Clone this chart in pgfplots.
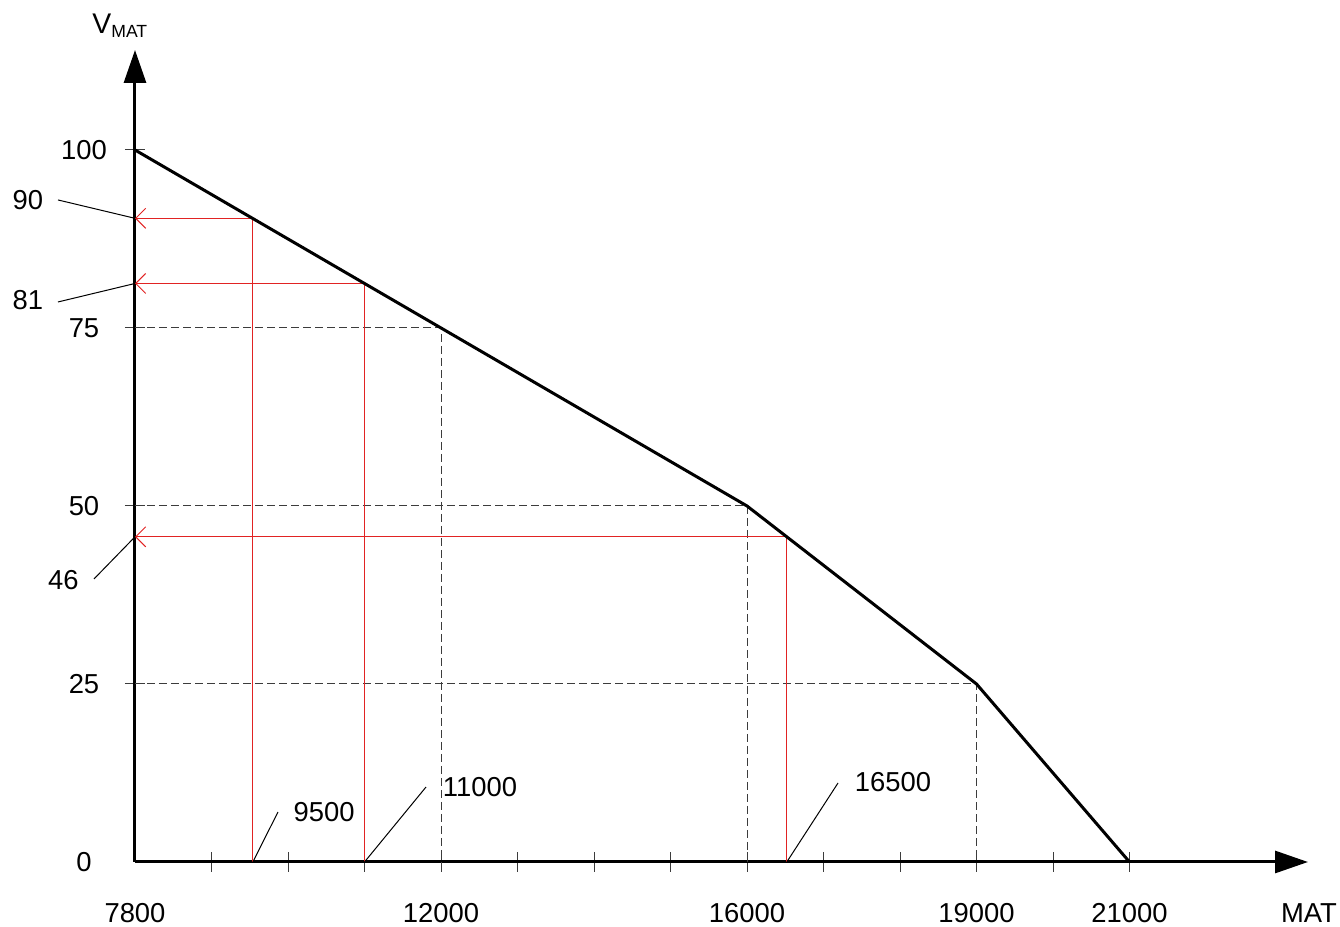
\documentclass[border=0pt]{standalone}
\usepackage{pgfplots}
\pgfplotsset{compat=1.18}
\usepackage{fontspec}
\setmainfont{Liberation Sans}
\usetikzlibrary{arrows.meta}
\definecolor{myred}{RGB}{225,35,35}
\definecolor{dashgray}{RGB}{60,60,60}
\begin{document}
\begin{tikzpicture}
\useasboundingbox (0,0) rectangle (670pt,463.5pt);
\begin{axis}[
  at={(67.5pt,32.5pt)}, anchor=south west,
  scale only axis, width=586.5pt, height=406pt,
  xmin=8000, xmax=23333, ymin=0, ymax=114.04,
  clip=false,
  axis lines=left,
  axis line style={line width=1.5pt, -{Triangle[length=16.5pt,width=11pt]}},
  xtick={9000,10000,11000,12000,13000,14000,15000,16000,17000,18000,19000,20000,21000},
  ytick={25,50,75,100},
  scaled x ticks=false, scaled y ticks=false,
  xticklabels={}, yticklabels={},
  tick align=center, major tick length=10pt,
  tick style={line width=0.5pt, color=dashgray},
  font=\fontsize{13.7}{16}\selectfont,
]
% dashed guides
\addplot[dashgray, line width=0.5pt, dash pattern=on 4pt off 2pt] coordinates {(8000,75) (12000,75) (12000,0)};
\addplot[dashgray, line width=0.5pt, dash pattern=on 4pt off 2pt] coordinates {(8000,50) (16000,50) (16000,0)};
\addplot[dashgray, line width=0.5pt, dash pattern=on 4pt off 2pt] coordinates {(8000,25) (19000,25) (19000,0)};
% red reading lines
\addplot[myred, line width=0.5pt, -{Straight Barb[length=5pt,width=10pt]}] coordinates {(9540,0) (9540,90.4) (8000,90.4)};
\addplot[myred, line width=0.5pt, -{Straight Barb[length=5pt,width=10pt]}] coordinates {(11000,0) (11000,81.25) (8000,81.25)};
\addplot[myred, line width=0.5pt, -{Straight Barb[length=5pt,width=10pt]}] coordinates {(16520,0) (16520,45.67) (8000,45.67)};
% main curve
\addplot[black, line width=1.5pt] coordinates {(8000,100) (12000,75) (16000,50) (19000,25) (21000,0)};
% leader lines
\draw[black, line width=0.5pt] (axis cs:6993,92.98) -- (axis cs:8000,90.4);
\draw[black, line width=0.5pt] (axis cs:6993,78.65) -- (axis cs:8000,81.25);
\draw[black, line width=0.5pt] (axis cs:7464,39.75) -- (axis cs:8000,45.67);
\draw[black, line width=0.5pt] (axis cs:9540,0) -- (axis cs:9869,7.02);
\draw[black, line width=0.5pt] (axis cs:11000,0) -- (axis cs:11804,10.53);
\draw[black, line width=0.5pt] (axis cs:16520,0) -- (axis cs:17190,11.1);
% y labels
\node[xshift=-25.5pt] at (axis cs:8000,100) {100};
\node[xshift=-25.5pt] at (axis cs:8000,75) {75};
\node[xshift=-25.5pt] at (axis cs:8000,50) {50};
\node[xshift=-25.5pt] at (axis cs:8000,25) {25};
\node[xshift=-25.5pt] at (axis cs:8000,0) {0};
\node at (axis cs:6601,92.98) {90};
\node at (axis cs:6601,78.93) {81};
\node at (axis cs:7065,39.6) {46};
% x labels
\node[yshift=-25.5pt] at (axis cs:8000,0) {7800};
\node[yshift=-25.5pt] at (axis cs:12000,0) {12000};
\node[yshift=-25.5pt] at (axis cs:16000,0) {16000};
\node[yshift=-25.5pt] at (axis cs:19000,0) {19000};
\node[yshift=-25.5pt] at (axis cs:21000,0) {21000};
\node[yshift=-25.5pt] at (axis cs:23346,0) {MAT};
\node at (axis cs:10471,7.02) {9500};
\node at (axis cs:12510,10.53) {11000};
\node at (axis cs:17909,11.24) {16500};
% axis title
\node[anchor=base west, inner sep=0pt] at (axis cs:7438,116.4) {\fontsize{14.2}{16}\selectfont V\raisebox{-0.3ex}{\fontsize{8.8}{10}\selectfont MAT}};
\end{axis}
\end{tikzpicture}
\end{document}
